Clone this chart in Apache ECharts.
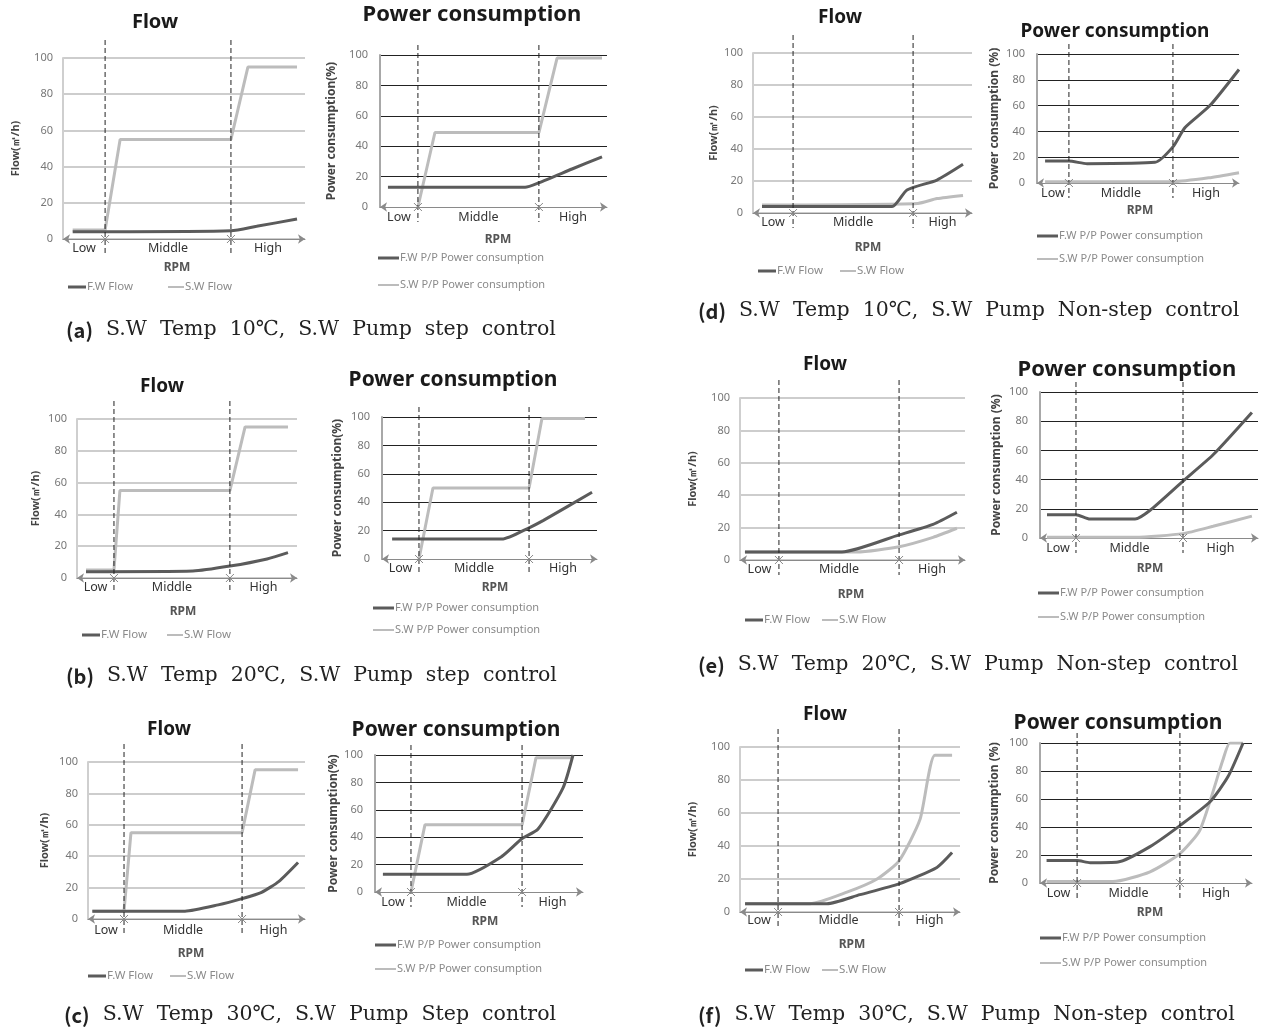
<!DOCTYPE html>
<html>
<head>
<meta charset="utf-8">
<script src="https://cdn.jsdelivr.net/npm/echarts@6/dist/echarts.min.js"></script>
<style>
  body { margin: 0; background: #fff; }
  #main { width: 1261px; height: 1030px; }
</style>
</head>
<body>
<div id="main"></div>
<script>
// RPM position runs 0..100 across each plot, values in % or m3/h
var zones = ['Low', 'Middle', 'High'];

// (a) S.W 10C, step control
var bFlowA = [17.4, 69.4];
var fwFlowA = [[4, 4], [17.4, 4], [69.4, 4.5], [80, 7], [96.7, 11]];
var swFlowA = [[4, 5], [17.4, 5], [23.6, 55], [69.4, 55], [76.4, 95], [96.7, 95]];
var bPowerA = [16.7, 70];
var fwPowerA = [[3.5, 13], [63.9, 13], [70, 16], [84.6, 25], [97.8, 33]];
var swPowerA = [[16.7, 0], [24.2, 49], [70, 49], [78, 98], [97.8, 98]];

// (b) S.W 20C, step control
var bFlowB = [16.8, 69.5];
var fwFlowB = [[4.1, 4], [52.7, 4.4], [69.5, 7.5], [86.4, 12], [95.9, 16]];
var swFlowB = [[4.1, 5], [16.8, 5], [19.5, 55], [69.5, 55], [76.4, 95], [95.9, 95]];
var bPowerB = [17.2, 68.4];
var fwPowerB = [[4.7, 14], [55.8, 14], [68.4, 22], [74.9, 27], [97.7, 47]];
var swPowerB = [[17.2, 0], [23.7, 50], [68.4, 50], [74.4, 99], [94.4, 99]];

// (c) S.W 30C, step control
var bFlowC = [16.6, 71];
var fwFlowC = [[2, 5], [44.7, 5], [60, 9], [71, 13], [80, 17], [88, 24], [96.8, 36]];
var swFlowC = [[2, 5], [16.6, 5], [19.8, 55], [71, 55], [77, 95], [96.8, 95]];
var bPowerC = [17.3, 70.7];
var fwPowerC = [[3.8, 13], [44.2, 13], [61, 26], [70.7, 39], [78.4, 46], [90.4, 76], [95.2, 100]];
var swPowerC = [[17.3, 0], [24, 49], [70.7, 49], [77.4, 98], [95.2, 98]];

// (d) S.W 10C, non-step control
var bFlowD = [18.3, 73.1];
var fwFlowD = [[4.1, 4], [63.5, 4], [70.3, 14.4], [84, 20.6], [95.9, 30.4]];
var swFlowD = [[4.1, 5], [75.3, 6], [84, 9], [95.9, 11]];
var bPowerD = [15.8, 67.3];
var fwPowerD = [[4, 17], [15.8, 17], [24.8, 15], [58.4, 16], [67.3, 28], [73.3, 43], [85.6, 60], [100, 88]];
var swPowerD = [[4, 1], [67.3, 1], [85, 4], [100, 8]];

// (e) S.W 20C, non-step control
var bFlowE = [17.3, 70.7];
var fwFlowE = [[2.2, 5], [45.3, 5], [70.7, 15.5], [85.8, 22], [96.4, 29.5]];
var swFlowE = [[2.2, 5], [52, 5], [70.7, 8.2], [85.8, 14], [96.4, 19.6]];
var bPowerE = [16.5, 65.6];
var fwPowerE = [[3.2, 16], [16.5, 16], [22.9, 13], [43.6, 13], [50.5, 19], [65.6, 39], [79.4, 57], [97.2, 86]];
var swPowerE = [[3.2, 0.5], [43.6, 0.5], [65.6, 3], [79.4, 8], [97.2, 15]];

// (f) S.W 30C, non-step control
var bFlowF = [17.3, 72.3];
var fwFlowF = [[2.3, 5], [39.5, 5], [54.5, 10.5], [72.3, 17], [89.5, 27], [96.4, 36]];
var swFlowF = [[2.3, 5], [31.8, 5], [48.6, 12], [62.3, 20], [72.3, 31], [81.8, 56], [88.6, 95], [96.4, 95]];
var bPowerF = [17.5, 66];
var fwPowerF = [[3.1, 16], [17.5, 16], [23.6, 14.5], [36.8, 15], [51.9, 26], [66, 41], [80.2, 58], [88.7, 76], [95.8, 100]];
var swPowerF = [[3.1, 1], [34.4, 1], [51.9, 8], [66, 21], [75.5, 38], [86.3, 88], [89.6, 100], [95.8, 100]];

var captions = [
  ['(a)', '  S.W  Temp  10\u2103,  S.W  Pump  step  control'],
  ['(b)', '  S.W  Temp  20\u2103,  S.W  Pump  step  control'],
  ['(c)', '  S.W  Temp  30\u2103,  S.W  Pump  Step  control'],
  ['(d)', '  S.W  Temp  10\u2103,  S.W  Pump  Non-step  control'],
  ['(e)', '  S.W  Temp  20\u2103,  S.W  Pump  Non-step  control'],
  ['(f)', '  S.W  Temp  30\u2103,  S.W  Pump  Non-step  control']
];
var captionPos = [[66, 330], [66, 676], [64, 1015], [698, 311], [698, 665], [698, 1015]];

var chart = echarts.init(document.getElementById('main'));

// layout of each small chart: plot box [l,t,r,b], title, zone label row, RPM, legend
var panels = [
  {kind: 'flow', box: [63, 58, 305, 239], title: [155, 22, 20], zoneY: 248, rpm: [177, 268], legY: [287], legX: [68, 168], gap: 44, fw: fwFlowA, sw: swFlowA, bounds: bFlowA, step: true},
  {kind: 'power', box: [380, 55, 607, 207], title: [472, 15, 22], zoneY: 217, rpm: [498, 240], legY: [258, 285], legX: [378], gap: 44, fw: fwPowerA, sw: swPowerA, bounds: bPowerA, step: true},
  {kind: 'flow', box: [77, 419, 297, 578], title: [162, 387, 19], zoneY: 587, rpm: [183, 612], legY: [635], legX: [82, 167], gap: 38, fw: fwFlowB, sw: swFlowB, bounds: bFlowB, step: true},
  {kind: 'power', box: [382, 417, 597, 559], title: [453, 380, 21], zoneY: 568, rpm: [495, 588], legY: [608, 630], legX: [373], gap: 40, fw: fwPowerB, sw: swPowerB, bounds: bPowerB, step: true},
  {kind: 'flow', box: [88, 762, 305, 919], title: [169, 730, 19], zoneY: 930, rpm: [191, 954], legY: [976], legX: [88, 170], gap: 40, fw: fwFlowC, sw: swFlowC, bounds: bFlowC, step: true},
  {kind: 'power', box: [375, 755, 583, 892], title: [456, 730, 21], zoneY: 902, rpm: [485, 922], legY: [945, 969], legX: [375], gap: 37, fw: fwPowerC, sw: swPowerC, bounds: bPowerC, step: true},
  {kind: 'flow', box: [753, 53, 972, 213], title: [840, 18, 19], zoneY: 222, rpm: [868, 248], legY: [271], legX: [758, 840], gap: 36, fw: fwFlowD, sw: swFlowD, bounds: bFlowD},
  {kind: 'power', box: [1037, 54, 1239, 183], title: [1115, 32, 19], zoneY: 193, rpm: [1140, 211], legY: [236, 259], legX: [1037], gap: 38, fw: fwPowerD, sw: swPowerD, bounds: bPowerD},
  {kind: 'flow', box: [740, 398, 965, 560], title: [825, 365, 19], zoneY: 569, rpm: [851, 595], legY: [620], legX: [745, 822], gap: 44, fw: fwFlowE, sw: swFlowE, bounds: bFlowE},
  {kind: 'power', box: [1040, 392, 1258, 538], title: [1127, 370, 22], zoneY: 548, rpm: [1150, 569], legY: [593, 617], legX: [1038], gap: 39, fw: fwPowerE, sw: swPowerE, bounds: bPowerE},
  {kind: 'flow', box: [740, 747, 960, 912], title: [825, 715, 19], zoneY: 920, rpm: [852, 945], legY: [970], legX: [745, 822], gap: 44, fw: fwFlowF, sw: swFlowF, bounds: bFlowF},
  {kind: 'power', box: [1040, 743, 1252, 883], title: [1118, 723, 21], zoneY: 893, rpm: [1150, 913], legY: [938, 963], legX: [1040], gap: 41, fw: fwPowerF, sw: swPowerF, bounds: bPowerF}
];

var grids = [], xAxes = [], yAxes = [], series = [];
panels.forEach(function (p, i) {
  var flow = p.kind === 'flow';
  var b = p.box;
  grids.push({left: b[0], top: b[1], width: b[2] - b[0], height: b[3] - b[1]});
  xAxes.push({
    gridIndex: i, type: 'value', min: 0, max: 100,
    axisLine: {show: true, symbol: ['arrow', 'arrow'], symbolSize: [7, 7], lineStyle: {color: '#8a8a8a', width: 1}},
    axisTick: {show: false}, axisLabel: {show: false}, splitLine: {show: false}
  });
  yAxes.push({
    gridIndex: i, type: 'value', min: 0, max: 100, interval: 20,
    name: flow ? 'Flow(\u33a5/h)' : (i < 6 ? 'Power consumption(%)' : 'Power consumption (%)'),
    nameLocation: 'middle', nameGap: p.gap - 2, nameRotate: 90,
    nameTextStyle: {fontFamily: 'Noto Sans', fontWeight: 'bold', fontSize: flow ? 11 : 12, color: '#444'},
    axisLine: {show: true, lineStyle: {color: flow ? '#cfcfcf' : '#a8a8a8', width: 2}},
    axisTick: {show: false},
    axisLabel: {color: '#777', fontSize: 11, fontFamily: 'Noto Sans', margin: flow ? 10 : 12},
    splitLine: {lineStyle: {color: flow ? '#cdcdcd' : '#222', width: flow ? 2 : 1}}
  });
  series.push({
    type: 'line', name: flow ? 'S.W Flow' : 'S.W P/P Power consumption',
    xAxisIndex: i, yAxisIndex: i, data: p.sw, showSymbol: false, silent: true,
    smooth: p.step ? false : 0.2,
    lineStyle: {color: '#bcbcbc', width: 3}, itemStyle: {color: '#bcbcbc'}, z: 2
  });
  series.push({
    type: 'line', name: flow ? 'F.W Flow' : 'F.W P/P Power consumption',
    xAxisIndex: i, yAxisIndex: i, data: p.fw, showSymbol: false, silent: true,
    smooth: 0.2,
    lineStyle: {color: '#5b5b5b', width: 3}, itemStyle: {color: '#5b5b5b'}, z: 3
  });
});

chart.setOption({
  animation: false,
  grid: grids,
  xAxis: xAxes,
  yAxis: yAxes,
  series: series
});

// text, dashed zone boundaries and legends
var g = [];
function txt(x, y, s, o) {
  g.push({
    type: 'text', x: x, y: y, silent: true, z: 10,
    style: {
      text: s, textAlign: o.align || 'center', textVerticalAlign: 'middle',
      fontSize: o.size || 12, fontWeight: o.weight || 'normal',
      fontFamily: o.family || 'Noto Sans', fill: o.color || '#333'
    }
  });
}
function seg(x1, y1, x2, y2, color, w, dash) {
  g.push({
    type: 'line', silent: true, z: 9,
    shape: {x1: x1, y1: y1, x2: x2, y2: y2},
    style: {stroke: color, lineWidth: w, lineDash: dash || null}
  });
}

panels.forEach(function (p, i) {
  var flow = p.kind === 'flow';
  var b = p.box;
  var ext = flow ? 18 : 10;
  var xs = [0].concat(p.bounds, [100]).map(function (v) {
    return chart.convertToPixel({xAxisIndex: i}, v);
  });
  var y0 = chart.convertToPixel({yAxisIndex: i}, 0);
  p.bounds.forEach(function (v, k) {
    var x = xs[k + 1];
    seg(x, b[1] - ext, x, b[3] + 15, '#222', 1, [5, 3]);
    seg(x - 4, y0 - 4, x + 4, y0 + 4, '#888', 1);
    seg(x - 4, y0 + 4, x + 4, y0 - 4, '#888', 1);
  });
  zones.forEach(function (z, k) {
    txt((xs[k] + xs[k + 1]) / 2, p.zoneY, z, {size: 12.5, color: '#333'});
  });
  txt(p.title[0], p.title[1], flow ? 'Flow' : 'Power consumption', {size: p.title[2], weight: 'bold', color: '#1a1a1a'});
  txt(p.rpm[0], p.rpm[1], 'RPM', {size: 12, weight: 'bold', color: '#555'});
  if (flow) {
    seg(p.legX[0], p.legY[0], p.legX[0] + 18, p.legY[0], '#5b5b5b', 3);
    txt(p.legX[0] + 19, p.legY[0], 'F.W Flow', {align: 'left', size: 11.5, color: '#8a8a8a'});
    seg(p.legX[1], p.legY[0], p.legX[1] + 16, p.legY[0], '#bcbcbc', 2);
    txt(p.legX[1] + 17, p.legY[0], 'S.W Flow', {align: 'left', size: 11.5, color: '#8a8a8a'});
  } else {
    seg(p.legX[0], p.legY[0], p.legX[0] + 21, p.legY[0], '#5b5b5b', 3);
    txt(p.legX[0] + 22, p.legY[0], 'F.W P/P Power consumption', {align: 'left', size: 11, color: '#8a8a8a'});
    seg(p.legX[0], p.legY[1], p.legX[0] + 21, p.legY[1], '#bcbcbc', 2);
    txt(p.legX[0] + 22, p.legY[1], 'S.W P/P Power consumption', {align: 'left', size: 11, color: '#8a8a8a'});
  }
});

captions.forEach(function (c, k) {
  g.push({
    type: 'text', x: captionPos[k][0], y: captionPos[k][1], silent: true, z: 10,
    style: {
      text: '{b|' + c[0] + '}' + c[1],
      textAlign: 'left', textVerticalAlign: 'middle',
      fontSize: 20.5, fontFamily: 'DejaVu Serif', fill: '#222',
      rich: {b: {fontSize: 20, fontWeight: 'bold', fontFamily: 'Noto Sans CJK KR', fill: '#222'}}
    }
  });
});

chart.setOption({graphic: g});
</script>
</body>
</html>
